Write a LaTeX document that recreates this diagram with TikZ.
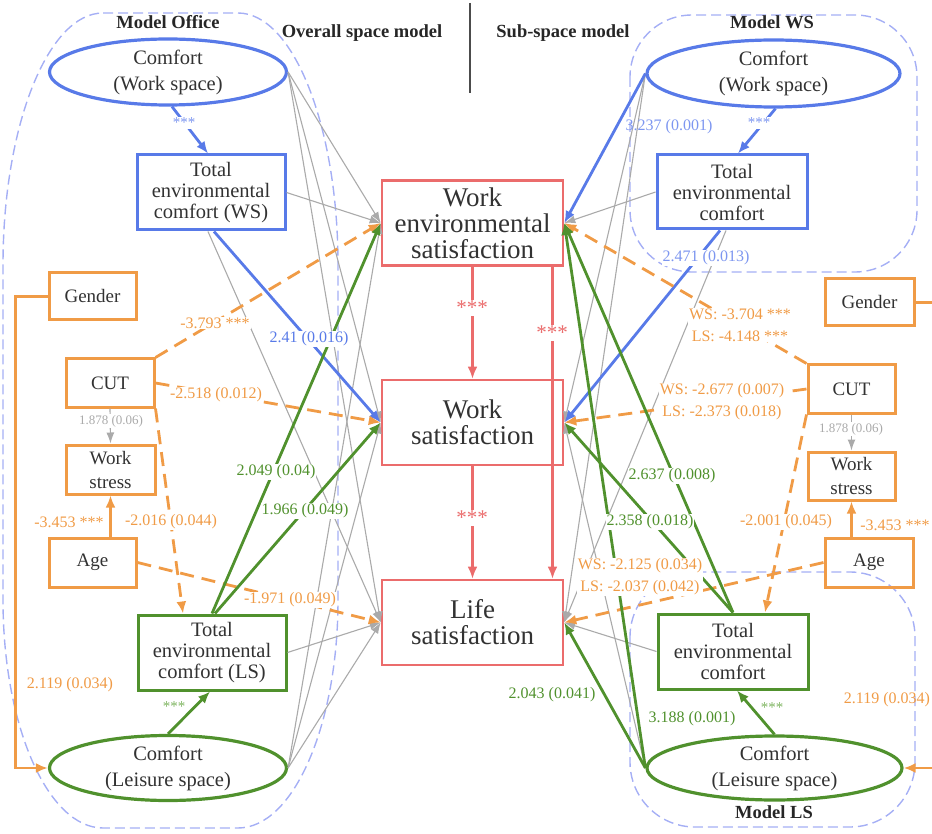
\documentclass[tikz,border=0pt]{standalone}
\usepackage{fontspec}
\setmainfont{Liberation Serif}
\usetikzlibrary{shapes.geometric,arrows.meta}
\definecolor{cblue}{RGB}{88,122,232}
\definecolor{lblue}{RGB}{125,150,240}
\definecolor{cgreen}{RGB}{80,145,45}
\definecolor{lgreen}{RGB}{125,180,95}
\definecolor{corange}{RGB}{240,155,70}
\definecolor{lorange}{RGB}{242,168,95}
\definecolor{cred}{RGB}{235,108,108}
\definecolor{cgray}{RGB}{170,170,170}
\definecolor{mreg}{RGB}{165,175,245}
\definecolor{ctext}{RGB}{50,50,50}
\begin{document}
\begin{tikzpicture}[x=1pt,y=-1pt,
  every node/.style={text=ctext},
  bx/.style={draw, line width=3pt, rectangle, align=center, inner sep=0pt, font=\fontsize{20.5}{21}\selectfont},
  sbx/.style={bx, draw=corange, font=\fontsize{19}{24}\selectfont},
  elnode/.style={draw, line width=3.2pt, ellipse, align=center, inner sep=0pt, font=\fontsize{20.5}{26}\selectfont},
  ctr/.style={draw=cred, line width=2.6pt, rectangle, align=center, inner sep=0pt, minimum width=181pt, minimum height=85pt, font=\fontsize{27}{26}\selectfont},
  mregion/.style={draw=mreg, line width=1.4pt, dash pattern=on 10pt off 5pt},
  ttl/.style={text=black!85, font=\bfseries\fontsize{18.5}{20}\selectfont},
  lab/.style={font=\fontsize{16}{22}\selectfont, inner sep=1pt, align=center},
  wlab/.style={lab, fill=white},
  lnbase/.style={line width=2.8pt, -{Latex[length=12pt,width=10pt]}},
  lnblue/.style={lnbase, draw=cblue},
  lngreen/.style={lnbase, draw=cgreen},
  lnor/.style={lnbase, draw=corange},
  lndash/.style={lnor, dash pattern=on 14pt off 8pt},
  lnred/.style={lnbase, draw=cred, line width=2.3pt},
  lngray/.style={draw=cgray, line width=1.1pt, -{Latex[length=11pt,width=8pt]}},
]
\useasboundingbox (0,0) rectangle (932,834);

% ---------- dashed model regions ----------
\draw[mregion] (103,13) -- (238,13) .. controls (293,13) and (338,126) .. (338,265)
  -- (338,600) .. controls (338,726) and (293,828) .. (238,828) -- (103,828)
  .. controls (48,828) and (3,726) .. (3,600) -- (3,265) .. controls (3,126) and (48,13) .. (103,13) -- cycle;
\draw[mregion, rounded corners=62pt] (630,15) rectangle (917,272);
\draw[mregion, rounded corners=65pt] (630,572) rectangle (915,827);

% ---------- titles ----------
\node[ttl] (tOff) at (168,22) {Model Office};
\node[ttl] (tOv) at (362,33) {Overall space model};
\node[ttl] (tSub) at (563,33) {Sub-space model};
\node[ttl] (tWS) at (772,22) {Model WS};
\node[ttl] (tLS) at (774,812) {Model LS};
\coordinate (d1) at (470,3);
\coordinate (d2) at (470,93);
\draw[line width=1.6pt, draw=black!70] (d1) -- (d2);

% ---------- left nodes ----------
\node[elnode, draw=cblue, minimum width=237pt, minimum height=66pt] (cwsL) at (168,72) {Comfort\\(Work space)};
\node[bx, draw=cblue, minimum width=148pt, minimum height=75pt] (tecWS) at (211,192.5) {Total\\environmental\\comfort (WS)};
\node[sbx, minimum width=87pt, minimum height=47pt] (genL) at (92.5,296.5) {Gender};
\node[sbx, minimum width=88pt, minimum height=48pt] (cutL) at (110,383) {CUT};
\node[sbx, minimum width=89pt, minimum height=49pt] (wsL) at (110.5,469.5) {Work\\stress};
\node[sbx, minimum width=87pt, minimum height=49pt] (ageL) at (92.5,562.5) {Age};
\node[bx, draw=cgreen, minimum width=148pt, minimum height=75pt] (tecLS) at (212,652.5) {Total\\environmental\\comfort (LS)};
\node[elnode, draw=cgreen, minimum width=237pt, minimum height=65pt] (clsL) at (168,768) {Comfort\\(Leisure space)};

% ---------- centre nodes ----------
\node[ctr] (wes) at (472.5,223) {Work\\environmental\\satisfaction};
\node[ctr] (wsat) at (472.5,422.5) {Work\\satisfaction};
\node[ctr] (lsat) at (472.5,622.5) {Life\\satisfaction};

% ---------- right nodes ----------
\node[elnode, draw=cblue, minimum width=253pt, minimum height=67pt] (cwsR) at (773.5,73.5) {Comfort\\(Work space)};
\node[bx, draw=cblue, minimum width=150pt, minimum height=74pt] (tecR) at (732,192) {Total\\environmental\\comfort};
\node[sbx, minimum width=89pt, minimum height=47pt] (genR) at (869.5,302.5) {Gender};
\node[sbx, minimum width=87pt, minimum height=48pt] (cutR) at (851.5,389) {CUT};
\node[sbx, minimum width=87pt, minimum height=48pt] (wstR) at (851.5,476) {Work\\stress};
\node[sbx, minimum width=88pt, minimum height=49pt] (ageR) at (869,562.5) {Age};
\node[bx, draw=cgreen, minimum width=150pt, minimum height=75pt] (tecGR) at (733,651.5) {Total\\environmental\\comfort};
\node[elnode, draw=cgreen, minimum width=255pt, minimum height=64pt] (clsR) at (774.5,768) {Comfort\\(Leisure space)};

% ---------- left gray paths ----------
\draw[lngray] (cwsL.east) -- (wes.west);
\draw[lngray] (cwsL.east) -- (wsat.west);
\draw[lngray] (cwsL.east) -- (lsat.west);
\draw[lngray] (tecWS.east) -- (wes.west);
\draw[lngray] ([xshift=-3pt]tecWS.south) -- (lsat.west);
\draw[lngray] (tecLS.east) -- (lsat.west);
\draw[lngray] (clsL.east) -- (wes.west);
\draw[lngray] (clsL.east) -- (wsat.west);
\draw[lngray] (clsL.east) -- (lsat.west);
\draw[lngray] (cutL.south) -- (wsL.north);

% ---------- right gray paths ----------
\draw[lngray] (cwsR.west) -- (wsat.east);
\draw[lngray] (cwsR.west) -- (lsat.east);
\draw[lngray] (tecR.west) -- (wes.east);
\draw[lngray] ([xshift=-6pt]tecR.south) -- (lsat.east);
\draw[lngray] (tecGR.west) -- (lsat.east);
\draw[lngray] (clsR.west) -- (wsat.east);
\draw[lngray] (cutR.south) -- (wstR.north);

% ---------- left coloured paths ----------
\draw[lnblue] ([xshift=4pt]cwsL.south) -- ([xshift=-3pt]tecWS.north);
\draw[lnblue] ([xshift=3pt]tecWS.south) -- (wsat.west);
\draw[lndash] (cutL.north east) -- (wes.west);
\draw[lndash] (cutL.east) -- (wsat.west);
\draw[lndash] (cutL.south east) -- ([xshift=-29pt]tecLS.north);
\draw[lnor] (ageL.north -| wsL.south) -- (wsL.south);
\draw[lndash] (ageL.east) -- (lsat.west);
\draw[lnor] (genL.west) -- ++(-32,0) |- (clsL.west);
\draw[lngreen] (clsL.north) -- ([xshift=-2pt]tecLS.south);
\draw[lngreen] (tecLS.north) -- (wes.west);
\draw[lngreen] ([xshift=3pt]tecLS.north) -- (wsat.west);

% ---------- centre red paths ----------
\draw[lnred] (wes.south) -- (wsat.north);
\draw[lnred] (wsat.south) -- (lsat.north);
\draw[lnred] ([xshift=80pt]wes.south) -- ([xshift=80pt]lsat.north);

% ---------- right coloured paths ----------
\draw[lnblue] ([xshift=2pt]cwsR.south) -- ([xshift=6pt]tecR.north);
\draw[lnblue] (cwsR.west) -- (wes.east);
\draw[lnblue] ([xshift=-12pt]tecR.south) -- (wsat.east);
\draw[lndash] (cutR.north west) -- (wes.east);
\draw[lndash] (cutR.west) -- (wsat.east);
\draw[lndash] (cutR.south west) -- ([xshift=32pt]tecGR.north);
\draw[lnor] (ageR.north -| wstR.south) -- (wstR.south);
\draw[lndash] (ageR.west) -- (lsat.east);
\draw[lnor] (genR.east) -- ++(30,0) |- (clsR.east);
\draw[lngreen] (tecGR.north) -- (wes.east);
\draw[lngreen] (tecGR.north) -- (wsat.east);
\draw[lngreen] (clsR.west) -- (wes.east);
\draw[lngreen] (clsR.west) -- (lsat.east);
\draw[lngreen] (clsR.north) -- ([xshift=4pt]tecGR.south);

% ---------- labels ----------
\node[wlab, text=lblue, font=\fontsize{15}{16}\selectfont] (l1) at (184,123) {***};
\node[wlab, text=corange] (l2) at (215,323) {-3.793 ***};
\node[wlab, text=corange] (l3) at (216,395) {-2.518 (0.012)};
\node[wlab, text=cblue] (l4) at (309,339) {2.41 (0.016)};
\node[wlab, text=cgray, font=\fontsize{13}{15}\selectfont] (l5) at (111,421) {1.878 (0.06)};
\node[lab, text=corange] (l6) at (69,522) {-3.453 ***};
\node[wlab, text=corange] (l7) at (171,522) {-2.016 (0.044)};
\node[wlab, text=cgreen] (l8) at (276,472) {2.049 (0.04)};
\node[wlab, text=cgreen] (l9) at (305,511) {1.966 (0.049)};
\node[wlab, text=corange] (l10) at (290,600) {-1.971 (0.049)};
\node[wlab, text=corange] (l11) at (70,685) {2.119 (0.034)};
\node[lab, text=lgreen, font=\fontsize{15}{16}\selectfont] (l12) at (174,707) {***};

\node[wlab, text=cred, font=\fontsize{21}{22}\selectfont] (r1) at (472,308) {***};
\node[wlab, text=cred, font=\fontsize{21}{22}\selectfont] (r2) at (472,518) {***};
\node[wlab, text=cred, font=\fontsize{21}{22}\selectfont] (r3) at (552,333) {***};

\node[wlab, text=lblue, font=\fontsize{15}{16}\selectfont] (m1) at (759,123) {***};
\node[lab, text=lblue] (m2) at (669,127) {3.237 (0.001)};
\node[wlab, text=lblue] (m3) at (706,258) {2.471 (0.013)};
\node[wlab, text=corange] (m4) at (740,325) {WS: -3.704 ***\\LS: -4.148 ***};
\node[wlab, text=corange] (m5) at (722,402) {WS: -2.677 (0.007)\\LS: -2.373 (0.018)};
\node[wlab, text=cgray, font=\fontsize{13}{15}\selectfont] (m6) at (851,429) {1.878 (0.06)};
\node[wlab, text=corange] (m7) at (786,522) {-2.001 (0.045)};
\node[lab, text=corange] (m8) at (895,525) {-3.453 ***};
\node[wlab, text=cgreen] (m9) at (672,476) {2.637 (0.008)};
\node[wlab, text=cgreen] (m10) at (650,522) {2.358 (0.018)};
\node[wlab, text=corange] (m11) at (640,577) {WS: -2.125 (0.034)\\LS: -2.037 (0.042)};
\node[lab, text=cgreen] (m12) at (552,695) {2.043 (0.041)};
\node[lab, text=cgreen] (m13) at (692,719) {3.188 (0.001)};
\node[lab, text=lgreen, font=\fontsize{15}{16}\selectfont] (m14) at (772,708) {***};
\node[lab, text=corange] (m15) at (887,700) {2.119 (0.034)};
\end{tikzpicture}
\end{document}
